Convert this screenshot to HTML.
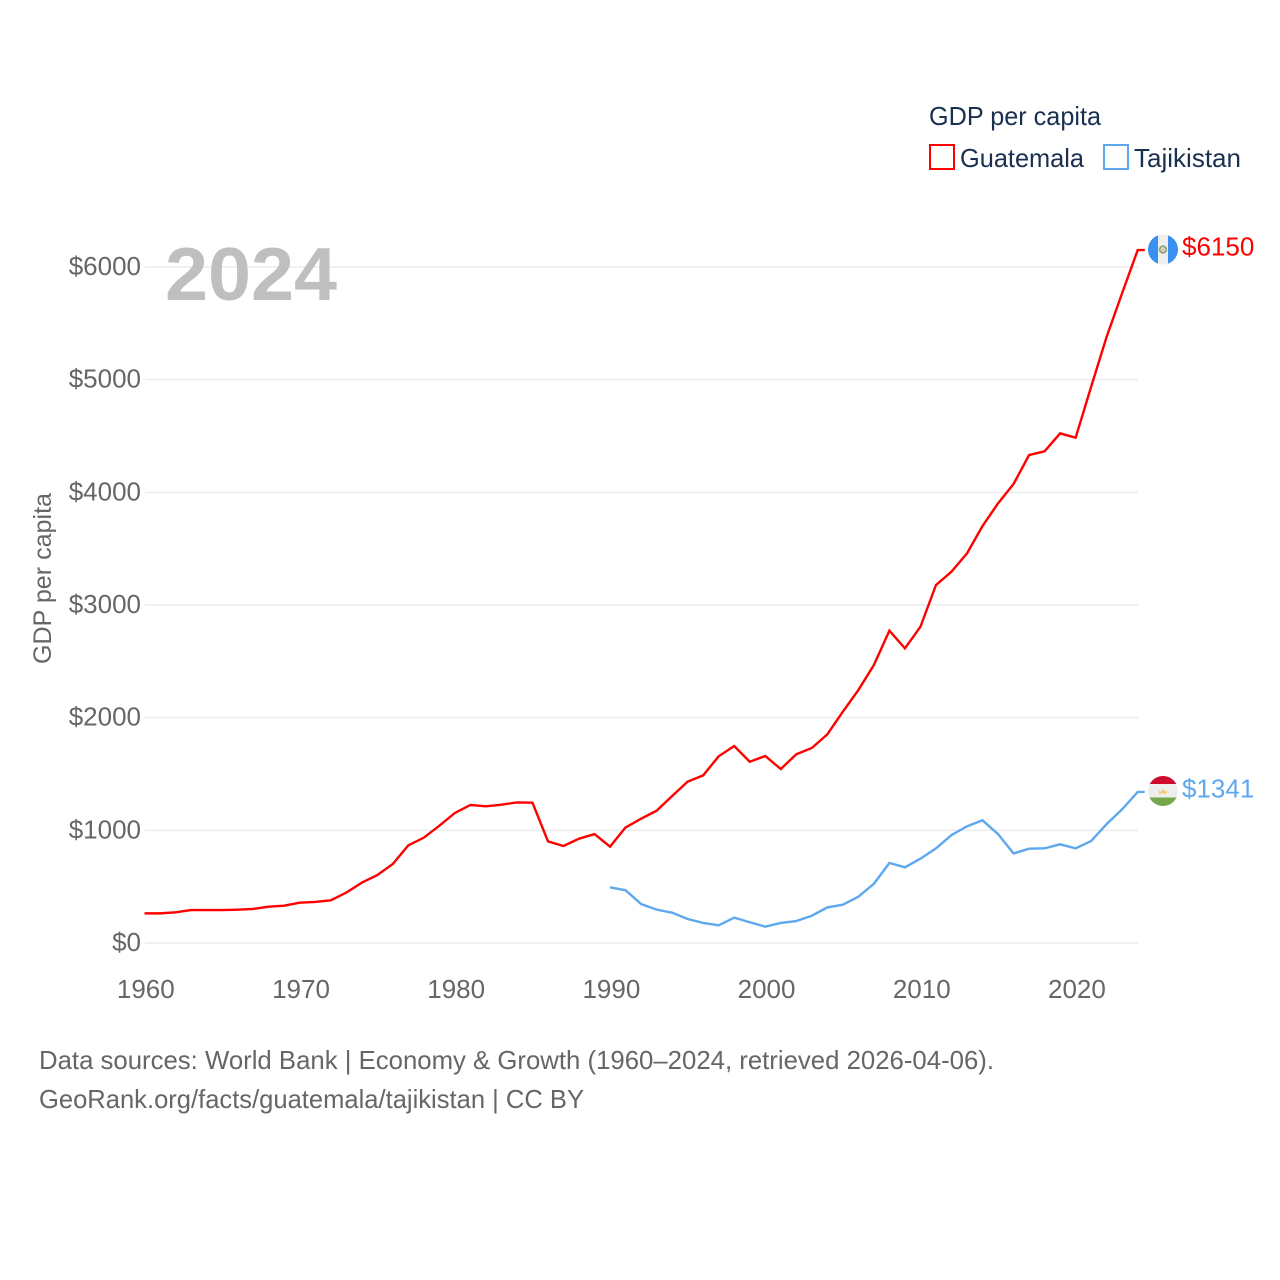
<!DOCTYPE html>
<html lang="en">
<head>
<meta charset="utf-8">
<title>GDP per capita: Guatemala and Tajikistan</title>
<style>
html,body{margin:0;padding:0;background:#fff;width:1280px;height:1280px;overflow:hidden}
svg{display:block}
text{font-family:"Liberation Sans",sans-serif}
</style>
</head>
<body>
<svg id="chart" xmlns="http://www.w3.org/2000/svg" width="1280" height="1280" viewBox="0 0 1280 1280">
  <defs>
    <clipPath id="clip-gt"><circle cx="1163" cy="249.5" r="15"/></clipPath>
    <clipPath id="clip-tj"><circle cx="1163" cy="791" r="15"/></clipPath>
  </defs>
  <g id="grid"></g>
  <g id="ytick-labels"></g>
  <g id="xtick-labels"></g>
  <text x="165" y="300" font-size="75" font-weight="700" fill="#bfbfbf" textLength="172" lengthAdjust="spacingAndGlyphs">2024</text>
  <text transform="translate(51,664) rotate(-90)" font-size="25" fill="#666" textLength="171" lengthAdjust="spacingAndGlyphs">GDP per capita</text>
  <g id="series"></g>

  <g clip-path="url(#clip-gt)">
    <rect x="1148" y="234" width="30" height="31" fill="#eeeeee"/>
    <rect x="1148" y="234" width="10" height="31" fill="#3a90f0"/>
    <rect x="1168" y="234" width="10" height="31" fill="#3a90f0"/>
    <circle cx="1163" cy="249.5" r="3.2" fill="none" stroke="#8fa878" stroke-width="2"/>
    <circle cx="1163" cy="249.5" r="1.2" fill="#c9b98a"/>
  </g>
  <g clip-path="url(#clip-tj)">
    <rect x="1148" y="776" width="30" height="8" fill="#cf0a2c"/>
    <rect x="1148" y="784" width="30" height="14" fill="#eeeeee"/>
    <rect x="1148" y="797.5" width="30" height="9" fill="#75a84a"/>
    <path d="M1159 793.5v-3l2 1.5 2-3 2 3 2-1.5v3z" fill="#f3c969"/>
  </g>
  <text x="1182" y="255.5" font-size="26" fill="#ff0000">$6150</text>
  <text x="1182" y="797.5" font-size="26" fill="#5ea8ee">$1341</text>

  <g>
    <text x="929" y="125" font-size="26" fill="#1a3050" textLength="172" lengthAdjust="spacingAndGlyphs">GDP per capita</text>
    <g>
      <rect x="930" y="145" width="24" height="24" fill="#fff" stroke="#ff0000" stroke-width="2"/>
      <text x="960" y="167" font-size="26" fill="#1a3050" textLength="124" lengthAdjust="spacingAndGlyphs">Guatemala</text>
    </g>
    <g>
      <rect x="1104" y="145" width="24" height="24" fill="#fff" stroke="#5ea8ee" stroke-width="2"/>
      <text x="1134" y="167" font-size="26" fill="#1a3050" textLength="107" lengthAdjust="spacingAndGlyphs">Tajikistan</text>
    </g>
  </g>

  <text x="39" y="1069" font-size="26" fill="#666" textLength="955" lengthAdjust="spacingAndGlyphs">Data sources: World Bank | Economy &amp; Growth (1960–2024, retrieved 2026-04-06).</text>
  <text x="39" y="1108" font-size="26" fill="#666" textLength="545" lengthAdjust="spacingAndGlyphs">GeoRank.org/facts/guatemala/tajikistan | CC BY</text>
</svg>
<script>
const yTicks = [0, 1000, 2000, 3000, 4000, 5000, 6000];
const xTicks = [1960, 1970, 1980, 1990, 2000, 2010, 2020];
const guatemalaStartYear = 1960;
const guatemalaValues = [263, 263, 272, 292, 292, 292, 296, 302, 322, 331, 358, 364, 379, 447, 535, 603, 701, 867, 935, 1041, 1154, 1225, 1213, 1228, 1248, 1245, 902, 861, 926, 967, 855, 1026, 1103, 1174, 1305, 1432, 1488, 1657, 1748, 1609, 1660, 1544, 1675, 1731, 1852, 2053, 2245, 2467, 2772, 2615, 2807, 3177, 3296, 3458, 3701, 3902, 4074, 4331, 4364, 4523, 4485, 4937, 5381, 5769, 6150];
const tajikistanStartYear = 1990;
const tajikistanValues = [494, 468, 346, 296, 269, 213, 178, 157, 225, 184, 145, 178, 195, 242, 316, 340, 411, 526, 710, 672, 748, 840, 958, 1035, 1089, 967, 795, 837, 840, 876, 840, 905, 1056, 1187, 1341];

const NS = 'http://www.w3.org/2000/svg';
const xScale = function (year) { return 144.5 + (year - 1960) * (1137.7 - 144.5) / 64; };
const yScale = function (value) { return 943 - value * (943 - 267) / 6000; };
const make = function (tag, parent) {
  const el = document.createElementNS(NS, tag);
  parent.appendChild(el);
  return el;
};
const gridGroup = document.getElementById('grid');
const yGroup = document.getElementById('ytick-labels');
const xGroup = document.getElementById('xtick-labels');
const seriesGroup = document.getElementById('series');

yTicks.forEach(function (v) {
  const line = make('line', gridGroup);
  
  
  line.setAttribute('x1', 145);
  line.setAttribute('x2', 1138);
  line.setAttribute('y1', yScale(v));
  line.setAttribute('y2', yScale(v));
  line.setAttribute('stroke', '#ececec');
  line.setAttribute('stroke-width', 1.5);
  const label = make('text', yGroup);
  
  
  label.setAttribute('x', 141);
  label.setAttribute('y', yScale(v) + 8);
  label.setAttribute('text-anchor', 'end');
  label.setAttribute('font-size', 26);
  label.setAttribute('fill', '#666');
  label.textContent = '$' + v;
});

xTicks.forEach(function (year) {
  const label = make('text', xGroup);
  
  
  label.setAttribute('x', xScale(year) + 1.3);
  label.setAttribute('y', 998);
  label.setAttribute('text-anchor', 'middle');
  label.setAttribute('font-size', 26);
  label.setAttribute('fill', '#666');
  label.textContent = year;
});

const linePoints = function (startYear, values) {
  const pts = values.map(function (v, i) {
    return xScale(startYear + i).toFixed(2) + ',' + yScale(v).toFixed(2);
  });
  const last = values[values.length - 1];
  pts.push((xScale(startYear + values.length - 1) + 7).toFixed(2) + ',' + yScale(last).toFixed(2));
  return pts.join(' ');
};

const guatemalaLine = make('polyline', seriesGroup);


guatemalaLine.setAttribute('points', linePoints(guatemalaStartYear, guatemalaValues));
guatemalaLine.setAttribute('fill', 'none');
guatemalaLine.setAttribute('stroke', '#ff0000');
guatemalaLine.setAttribute('stroke-width', 2.4);

const tajikistanLine = make('polyline', seriesGroup);


tajikistanLine.setAttribute('points', linePoints(tajikistanStartYear, tajikistanValues));
tajikistanLine.setAttribute('fill', 'none');
tajikistanLine.setAttribute('stroke', '#5ea8ee');
tajikistanLine.setAttribute('stroke-width', 2.4);
</script>
</body>
</html>
